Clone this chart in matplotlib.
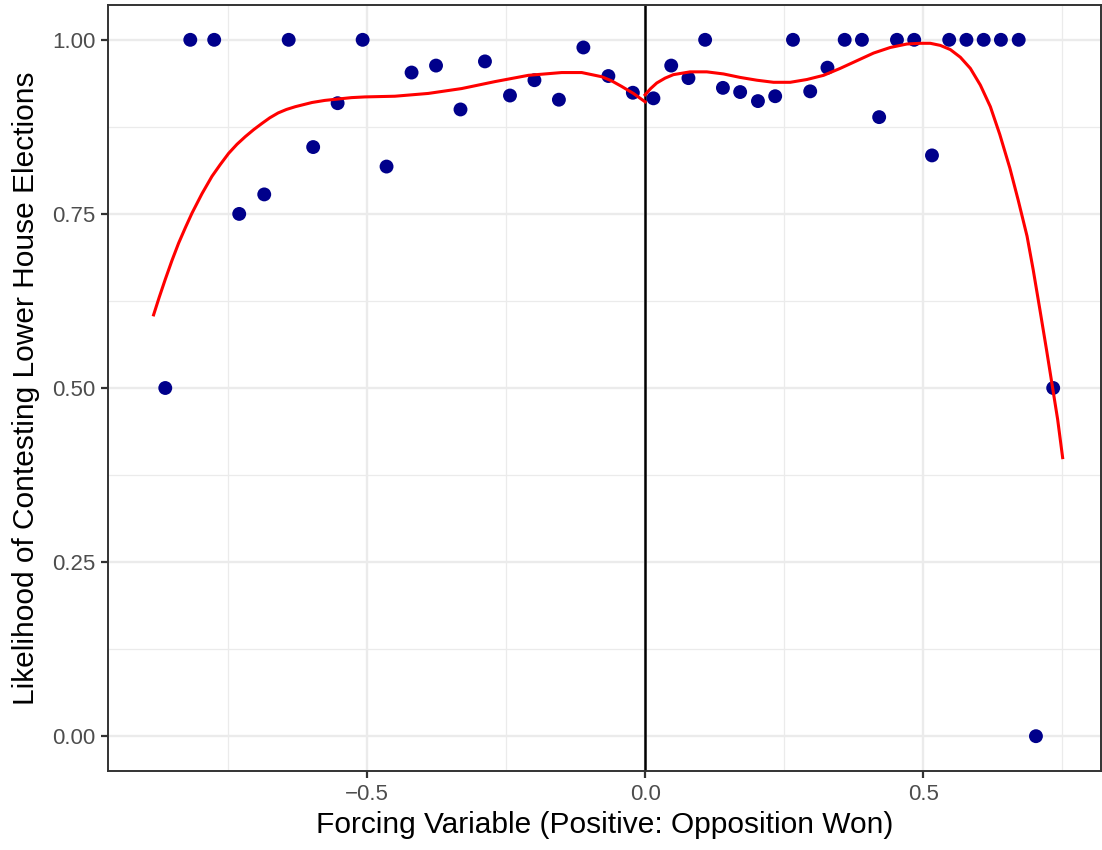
import matplotlib.pyplot as plt

plt.rcParams['font.family'] = ['Liberation Sans', 'DejaVu Sans']

# binned means of the outcome by forcing variable
bin_x = [-0.863, -0.818, -0.775, -0.730, -0.685, -0.641, -0.597, -0.553, -0.508,
         -0.465, -0.420, -0.376, -0.332, -0.288, -0.243, -0.199, -0.155, -0.111,
         -0.066, -0.022,
         0.015, 0.047, 0.078, 0.108, 0.140, 0.171, 0.203, 0.234, 0.266, 0.297,
         0.328, 0.359, 0.390, 0.421, 0.453, 0.484, 0.516, 0.547, 0.578, 0.609,
         0.640, 0.672, 0.703, 0.734]
bin_y = [0.500, 1.000, 1.000, 0.750, 0.778, 1.000, 0.846, 0.909, 1.000,
         0.818, 0.953, 0.963, 0.900, 0.969, 0.920, 0.942, 0.914, 0.989,
         0.948, 0.924,
         0.916, 0.963, 0.945, 1.000, 0.931, 0.925, 0.912, 0.919, 1.000, 0.926,
         0.960, 1.000, 1.000, 0.889, 1.000, 1.000, 0.834, 1.000, 1.000, 1.000,
         1.000, 1.000, 0.000, 0.500]

# fitted curve, left of the cutoff
fit_left_x = [-0.884, -0.874, -0.863, -0.851, -0.839, -0.827, -0.815, -0.797,
              -0.779, -0.764, -0.749, -0.734, -0.719, -0.704, -0.689, -0.675,
              -0.660, -0.645, -0.629, -0.614, -0.599, -0.576, -0.552, -0.528,
              -0.504, -0.450, -0.390, -0.330, -0.270, -0.210, -0.150, -0.114,
              -0.078, -0.060, -0.042, -0.021, 0.0]
fit_left_y = [0.605, 0.630, 0.656, 0.683, 0.708, 0.730, 0.751, 0.779,
              0.804, 0.821, 0.837, 0.850, 0.861, 0.871, 0.880, 0.888,
              0.895, 0.900, 0.904, 0.907, 0.910, 0.913, 0.915, 0.917,
              0.918, 0.919, 0.923, 0.930, 0.940, 0.949, 0.953, 0.953,
              0.947, 0.941, 0.933, 0.923, 0.911]

# fitted curve, right of the cutoff
fit_right_x = [0.0, 0.010, 0.021, 0.036, 0.051, 0.081, 0.111, 0.141, 0.171,
               0.201, 0.231, 0.261, 0.291, 0.321, 0.351, 0.381, 0.411, 0.441,
               0.471, 0.495, 0.513, 0.531, 0.549, 0.567, 0.585, 0.603, 0.621,
               0.638, 0.656, 0.671, 0.687, 0.698, 0.710, 0.722, 0.733, 0.742,
               0.751]
fit_right_y = [0.921, 0.930, 0.938, 0.945, 0.950, 0.954, 0.954, 0.951, 0.946,
               0.942, 0.939, 0.939, 0.943, 0.949, 0.959, 0.970, 0.981, 0.989,
               0.994, 0.995, 0.995, 0.992, 0.986, 0.975, 0.959, 0.935, 0.904,
               0.864, 0.816, 0.770, 0.718, 0.670, 0.613, 0.555, 0.500, 0.455,
               0.400]

fig = plt.figure(figsize=(11.02, 8.5), dpi=100)
ax = fig.add_axes([108 / 1102, 1 - 771 / 850, 993 / 1102, 766 / 850])

ax.set_xlim(-0.966, 0.820)
ax.set_ylim(-0.05, 1.05)

ax.set_xticks([-0.5, 0.0, 0.5])
ax.set_xticks([-0.75, -0.25, 0.25, 0.75], minor=True)
ax.set_yticks([0.0, 0.25, 0.5, 0.75, 1.0])
ax.set_yticks([0.125, 0.375, 0.625, 0.875], minor=True)
ax.set_xticklabels(['\u22120.5', '0.0', '0.5'])
ax.set_yticklabels(['0.00', '0.25', '0.50', '0.75', '1.00'])

ax.grid(which='major', color='#EBEBEB', linewidth=1.7)
ax.grid(which='minor', color='#EBEBEB', linewidth=0.9)
ax.set_axisbelow(True)

ax.tick_params(which='major', length=5, width=1.6, color='#333333',
               labelsize=16, labelcolor='#4D4D4D', pad=4)
ax.tick_params(which='minor', length=0)
for sp in ax.spines.values():
    sp.set_color('#333333')
    sp.set_linewidth(1.4)

ax.axvline(0, color='black', linewidth=1.8, zorder=2)
ax.scatter(bin_x, bin_y, s=100, color='#00008B', edgecolors='none', zorder=3)
ax.plot(fit_left_x, fit_left_y, color='red', linewidth=2.2, zorder=4)
ax.plot(fit_right_x, fit_right_y, color='red', linewidth=2.2, zorder=4)

ax.set_xlabel('Forcing Variable (Positive: Opposition Won)', fontsize=21.5, labelpad=5)
ax.set_ylabel('Likelihood of Contesting Lower House Elections', fontsize=21.5, labelpad=9)

fig.savefig('out.png', dpi=100)
